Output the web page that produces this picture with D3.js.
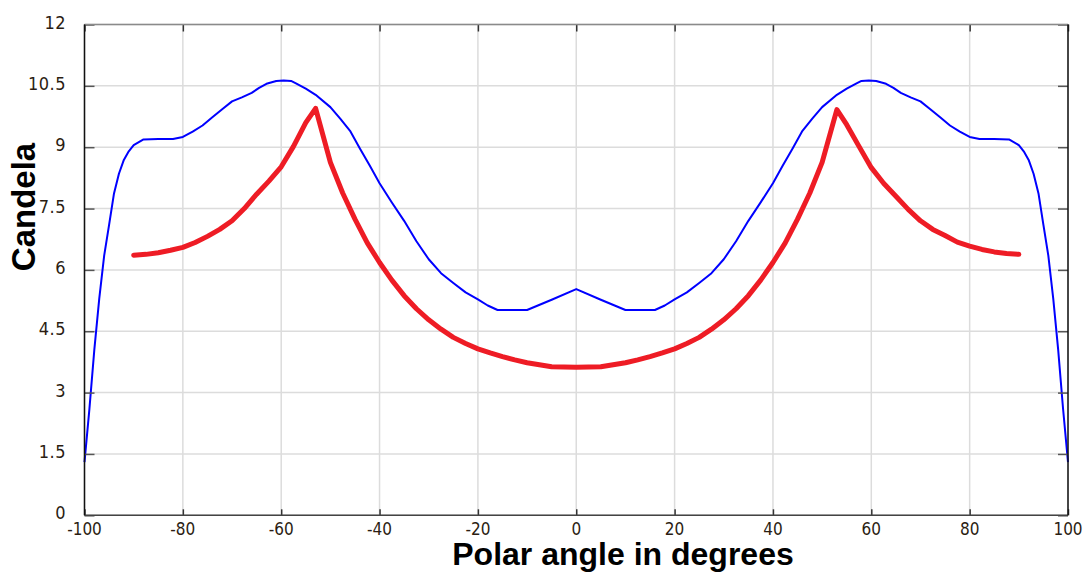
<!DOCTYPE html>
<html>
<head>
<meta charset="utf-8">
<script src="https://cdn.jsdelivr.net/npm/d3@7"></script>
<style>
  html, body { margin: 0; padding: 0; background: #fff; }
  svg { display: block; }
</style>
</head>
<body>
<div id="chart"></div>
<script>
// polar angle (deg) vs candela
const blueAngles = [-100, -99, -98, -97, -96, -95, -94, -93, -92, -91, -90, -88, -85, -82, -80, -78, -76, -74, -72, -70, -68, -66, -64.5, -63, -61, -59.5, -58, -57, -55, -53, -50, -48, -46, -44, -42, -40,
  -37.5, -35, -32.5, -30, -27.5, -25, -22.5, -20, -18, -16, -10, -5, 0, 5, 10, 16, 18, 20, 22.5, 25, 27.5, 30, 32.5, 35, 37.5,
  40, 42, 44, 46, 48, 50, 53, 55, 57, 58, 59.5, 61, 63, 64.5, 66, 68, 70, 72, 74, 76, 78, 80, 82, 85, 88, 90, 91, 92, 93, 94, 95, 96, 97, 98, 99, 100]
const blueCandela = [1.3, 2.6, 4.05, 5.3, 6.35, 7.1, 7.87, 8.35, 8.69, 8.9, 9.05, 9.19, 9.2, 9.2, 9.25, 9.38, 9.53, 9.73, 9.93, 10.12, 10.22, 10.33, 10.45, 10.55, 10.62, 10.63, 10.62, 10.56, 10.43, 10.28, 9.98, 9.7, 9.4, 8.97, 8.55, 8.12,
  7.65, 7.2, 6.7, 6.26, 5.92, 5.68, 5.45, 5.28, 5.13, 5.02, 5.02, 5.27, 5.53, 5.27, 5.02, 5.02, 5.13, 5.28, 5.45, 5.68, 5.92, 6.26, 6.7, 7.2, 7.65,
  8.12, 8.55, 8.97, 9.4, 9.7, 9.98, 10.28, 10.43, 10.56, 10.62, 10.63, 10.62, 10.55, 10.45, 10.33, 10.22, 10.12, 9.93, 9.73, 9.53, 9.38, 9.25, 9.2, 9.2, 9.19, 9.05, 8.9, 8.69, 8.35, 7.87, 7.1, 6.35, 5.3, 4.05, 2.6, 1.3]

const redAngles = [-90, -87.5, -85, -82.5, -80, -77.5, -75, -72.5, -70, -67.5, -65, -62.5, -60, -57.5, -55, -53, -50, -47.5, -45, -42.5, -40, -37.5, -35, -32.5, -30, -27.5, -25, -22.5, -20, -17.5, -15, -12.5, -10, -5,
  0, 5, 10, 12.5, 15, 17.5, 20, 22.5, 25, 27.5, 30, 32.5, 35, 37.5, 40, 42.5, 45, 47.5, 50, 53, 55, 57.5, 60, 62.5, 65, 67.5, 70, 72.5, 75, 77.5, 80, 82.5, 85, 87.5, 90]
const redCandela = [6.36, 6.38, 6.42, 6.48, 6.55, 6.67, 6.82, 6.99, 7.2, 7.5, 7.85, 8.17, 8.52, 9.02, 9.6, 9.95, 8.63, 7.88, 7.24, 6.66, 6.18, 5.75, 5.37, 5.05, 4.78, 4.55, 4.35, 4.2, 4.07, 3.97, 3.88, 3.8, 3.73, 3.63,
  3.62, 3.63, 3.73, 3.8, 3.88, 3.97, 4.07, 4.2, 4.35, 4.55, 4.78, 5.05, 5.37, 5.75, 6.18, 6.66, 7.24, 7.88, 8.63, 9.92, 9.55, 9.02, 8.5, 8.12, 7.8, 7.48, 7.2, 6.99, 6.84, 6.68, 6.58, 6.5, 6.44, 6.4, 6.38]

const xTicks = [-100, -80, -60, -40, -20, 0, 20, 40, 60, 80, 100]
const yTicks = [0, 1.5, 3, 4.5, 6, 7.5, 9, 10.5, 12]
const yTickLabels = ['0', '1.5', '3', '4.5', '6', '7.5', '9', '10.5', '12']

class CandelaPlot {
  constructor (parent) {
    this.width = 1084
    this.height = 572
    this.margin = { top: 24.5, right: 16, bottom: 57, left: 84.5 }
    this.svg = d3.select(parent).append('svg')
      .attr('width', this.width)
      .attr('height', this.height)

    this.setScales()
    this.drawGrid()
    this.drawSeries()
    this.drawFrame()
    this.drawLabels()
  }

  setScales () {
    const m = this.margin
    this.x = d3.scaleLinear().domain([-100, 100]).range([m.left, this.width - m.right])
    this.y = d3.scaleLinear().domain([0, 12]).range([this.height - m.bottom + 0.3, m.top])
  }

  drawGrid () {
    const g = this.svg.append('g').attr('class', 'grid')
    g.selectAll('line.gx').data(xTicks).join('line')
      .attr('x1', (d) => this.x(d)).attr('x2', (d) => this.x(d))
      .attr('y1', this.y(0)).attr('y2', this.y(12))
      .attr('stroke', '#dcdcdc').attr('stroke-width', 1.5)
    g.selectAll('line.gy').data(yTicks).join('line')
      .attr('x1', this.x(-100)).attr('x2', this.x(100))
      .attr('y1', (d) => this.y(d)).attr('y2', (d) => this.y(d))
      .attr('stroke', '#dcdcdc').attr('stroke-width', 1.5)
  }

  drawSeries () {
    const line = d3.line().x((d) => this.x(d[0])).y((d) => this.y(d[1]))

    this.svg.append('path')
      .datum(d3.zip(redAngles, redCandela))
      .attr('d', line)
      .attr('fill', 'none')
      .attr('stroke', '#ee1c25')
      .attr('stroke-width', 5)
      .attr('stroke-linejoin', 'round')
      .attr('stroke-linecap', 'round')

    this.svg.append('path')
      .datum(d3.zip(blueAngles, blueCandela))
      .attr('d', line)
      .attr('fill', 'none')
      .attr('stroke', '#0000ff')
      .attr('stroke-width', 2)
      .attr('stroke-linejoin', 'round')
  }

  drawFrame () {
    const x0 = this.x(-100)
    const x1 = this.x(100)
    const y0 = this.y(0)
    const y1 = this.y(12)
    const tickLen = 10

    const axisLeft = d3.axisRight(this.y).tickValues(yTicks).tickSize(tickLen).tickFormat('')
    const axisRight = d3.axisLeft(this.y).tickValues(yTicks).tickSize(tickLen).tickFormat('')
    const axisBottom = d3.axisTop(this.x).tickValues(xTicks).tickSize(6).tickFormat('')
    const axisTop = d3.axisBottom(this.x).tickValues(xTicks).tickSize(7).tickFormat('')

    const styleAxis = (sel, color) => {
      sel.select('.domain').remove()
      sel.selectAll('.tick line').attr('stroke', color).attr('stroke-width', 1.5)
    }

    this.svg.append('g').attr('transform', `translate(${x0},0)`).call(axisLeft).call(styleAxis, '#555')
    this.svg.append('g').attr('transform', `translate(${x1},0)`).call(axisRight).call(styleAxis, '#555')
    this.svg.append('g').attr('transform', `translate(0,${y0})`).call(axisBottom).call(styleAxis, '#333')
    this.svg.append('g').attr('transform', `translate(0,${y1})`).call(axisTop).call(styleAxis, '#333')

    const frame = this.svg.append('g').attr('fill', 'none')
    frame.append('line').attr('x1', x0).attr('x2', x1).attr('y1', y1).attr('y2', y1)
      .attr('stroke', '#8a8a8a').attr('stroke-width', 1.5)
    frame.append('line').attr('x1', x0).attr('x2', x1).attr('y1', y0).attr('y2', y0)
      .attr('stroke', '#444').attr('stroke-width', 1.5)
    frame.append('line').attr('x1', x0).attr('x2', x0).attr('y1', y1).attr('y2', y0)
      .attr('stroke', '#111').attr('stroke-width', 1.5)
    frame.append('line').attr('x1', x1).attr('x2', x1).attr('y1', y1).attr('y2', y0)
      .attr('stroke', '#111').attr('stroke-width', 1.5)
  }

  drawLabels () {
    const tickFont = '"Liberation Sans Narrow", "DejaVu Sans Condensed", sans-serif'

    this.svg.append('g').selectAll('text').data(yTicks).join('text')
      .attr('x', 66)
      .attr('y', (d) => this.y(d) + 4)
      .attr('text-anchor', 'end')
      .attr('font-family', tickFont)
      .attr('font-size', 18)
      .attr('letter-spacing', 0.5)
      .attr('fill', '#2b1d12')
      .text((d, i) => yTickLabels[i])

    this.svg.append('g').selectAll('text').data(xTicks).join('text')
      .attr('x', (d) => this.x(d))
      .attr('y', this.y(0) + 20)
      .attr('text-anchor', 'middle')
      .attr('font-family', tickFont)
      .attr('font-size', 17)
      .attr('fill', '#2b1d12')
      .text((d) => d)

    this.svg.append('text')
      .attr('x', 623)
      .attr('y', 565)
      .attr('text-anchor', 'middle')
      .attr('font-family', '"Liberation Sans", Arial, sans-serif')
      .attr('font-weight', 'bold')
      .attr('font-size', 32)
      .attr('fill', '#000')
      .text('Polar angle in degrees')

    this.svg.append('text')
      .attr('transform', 'translate(35,207) rotate(-90)')
      .attr('text-anchor', 'middle')
      .attr('font-family', '"Liberation Sans", Arial, sans-serif')
      .attr('font-weight', 'bold')
      .attr('font-size', 33)
      .attr('fill', '#000')
      .text('Candela')
  }
}

const plot = new CandelaPlot('#chart')
</script>
</body>
</html>
